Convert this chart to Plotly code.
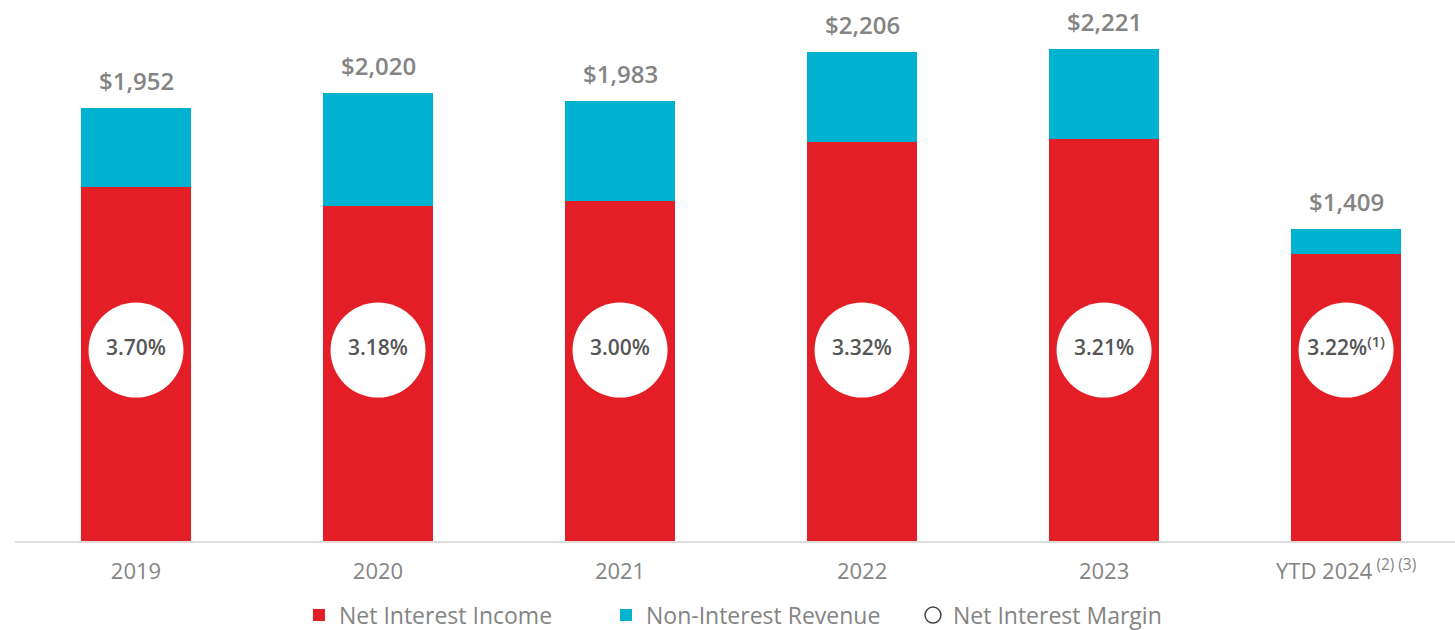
import plotly.graph_objects as go

# Revenue composition by year ($ millions) and net interest margin
years = ["2019", "2020", "2021", "2022", "2023", "YTD 2024"]
tick_labels = ["2019", "2020", "2021", "2022", "2023",
               "YTD 2024<sup> (2) (3)</sup>"]
net_interest_income = [1596, 1510, 1533, 1799, 1812, 1294]
non_interest_revenue = [356, 510, 450, 407, 409, 115]
totals = [1952, 2020, 1983, 2206, 2221, 1409]
nim_labels = ["3.70%", "3.18%", "3.00%", "3.32%", "3.21%", "3.22%<sup>(1)</sup>"]
nim_circle_level = 861

RED = "#E31E26"
TEAL = "#00B2CF"
GREY = "#848484"
FONT = "'Open Sans', sans-serif"

x = list(range(len(years)))

fig = go.Figure()
fig.add_trace(go.Bar(x=x, y=net_interest_income, name="Net Interest Income",
                     marker=dict(color=RED, line=dict(width=0)), width=0.455))
fig.add_trace(go.Bar(x=x, y=non_interest_revenue, name="Non-Interest Revenue",
                     marker=dict(color=TEAL, line=dict(width=0)), width=0.455))

# White NIM discs inside each bar
fig.add_trace(go.Scatter(
    x=x, y=[nim_circle_level] * len(x), mode="markers+text",
    marker=dict(size=95, color="white", line=dict(width=0)),
    text=nim_labels, textposition="middle center",
    textfont=dict(family=FONT, size=21, color="#555555", weight=600),
    showlegend=False, hoverinfo="skip"))

# Legend entry for the margin discs
fig.add_trace(go.Scatter(
    x=[None], y=[None], mode="markers", name="Net Interest Margin",
    marker=dict(size=20, color="white", symbol="circle",
                line=dict(width=1.5, color="#444444"))))

# Total labels above the stacks
for xi, t in zip(x, totals):
    fig.add_annotation(x=xi, y=t, text=f"${t:,}", showarrow=False,
                       yanchor="bottom", yshift=9,
                       font=dict(family=FONT, size=24, color=GREY, weight=600))

fig.update_layout(
    barmode="stack",
    width=1455, height=630,
    margin=dict(l=15, r=0, t=0, b=89, autoexpand=False),
    paper_bgcolor="white", plot_bgcolor="white",
    font=dict(family=FONT, color=GREY),
    xaxis=dict(range=[-0.5, 5.45], tickmode="array", tickvals=x,
               ticktext=tick_labels, tickfont=dict(size=22, color=GREY),
               ticks="outside", ticklen=10, tickcolor="rgba(0,0,0,0)",
               showline=True, linecolor="#DDDDDD", linewidth=1.5,
               showgrid=False, zeroline=False),
    yaxis=dict(range=[0, 2440], visible=False, showgrid=False, zeroline=False),
    legend=dict(orientation="h", x=0.517, xanchor="center", y=-0.137,
                yanchor="middle", font=dict(size=23, color=GREY),
                itemwidth=30, entrywidth=262, traceorder="normal"),
    bargap=0.5,
)

fig.write_html("out.html")
